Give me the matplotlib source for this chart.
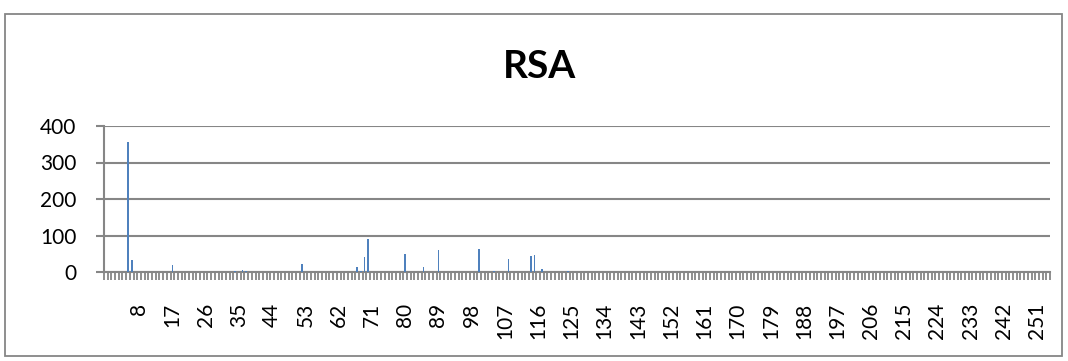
import numpy as np
import matplotlib
matplotlib.use('Agg')
import matplotlib.pyplot as plt
from matplotlib.patches import Rectangle

plt.rcParams['font.family'] = ['Lato', 'DejaVu Sans']

# categorias do eixo x (-1 .. 254)
categories = list(range(-1, 255))

# valores diferentes de zero
spike_cats = [5, 6, 17, 34, 36, 37, 52, 59, 67, 68, 69, 70, 80, 85, 89, 95,
              100, 104, 108, 114, 115, 117, 122, 124]
spike_vals = [355, 32, 19, 3, 5, 2, 22, 1, 14, 2, 41, 90, 49, 15, 60, 1,
              63, 3, 35, 43, 46, 8, 1, 3]

title = 'RSA'
y_ticks = [0, 100, 200, 300, 400]

values = np.zeros(len(categories))
for c, v in zip(spike_cats, spike_vals):
    values[categories.index(c)] = v

fig = plt.figure(figsize=(10.68, 3.61), dpi=100)
ax = fig.add_axes([104 / 1068, 1 - 272 / 361, (1050 - 104) / 1068, (272 - 126) / 361])

# borda do gráfico
fig.patches.append(Rectangle((4.5 / 1068, 1 - 355.5 / 361), (1062 - 4.5) / 1068, (355.5 - 13.5) / 361,
                             transform=fig.transFigure, fill=False, edgecolor='#868686', linewidth=1.3))

ax.bar(categories, values, width=0.45, color='#4F81BD', zorder=3)

ax.set_ylim(0, 400)
ax.set_yticks(y_ticks)
ax.set_xlim(categories[0] - 0.5, categories[-1] + 0.5)
ax.grid(axis='y', color='#868686', linewidth=1.5, zorder=0)

for s in ['top', 'right']:
    ax.spines[s].set_visible(False)
for s in ['left', 'bottom']:
    ax.spines[s].set_color('#868686')
    ax.spines[s].set_linewidth(1.5)

# rótulos do eixo x a cada 9 categorias começando em 8
label_cats = [c for c in categories if c >= 8 and (c - 8) % 9 == 0]
ax.set_xticks(label_cats)
ax.set_xticklabels([str(c) for c in label_cats], rotation=90, fontsize=15)
ax.tick_params(axis='x', which='major', length=0, pad=22)
ax.set_xticks(np.arange(categories[0] - 0.5, categories[-1] + 1.0, 1.0), minor=True)
ax.tick_params(axis='x', which='minor', length=6, width=1.3, color='#868686', direction='out')

ax.tick_params(axis='y', length=6, width=1.5, color='#868686', labelsize=15, pad=14)

fig.text(540 / 1068, 1 - 66 / 361, title, ha='center', va='center', fontsize=28, fontweight='bold')

fig.savefig('out.png', dpi=100)
